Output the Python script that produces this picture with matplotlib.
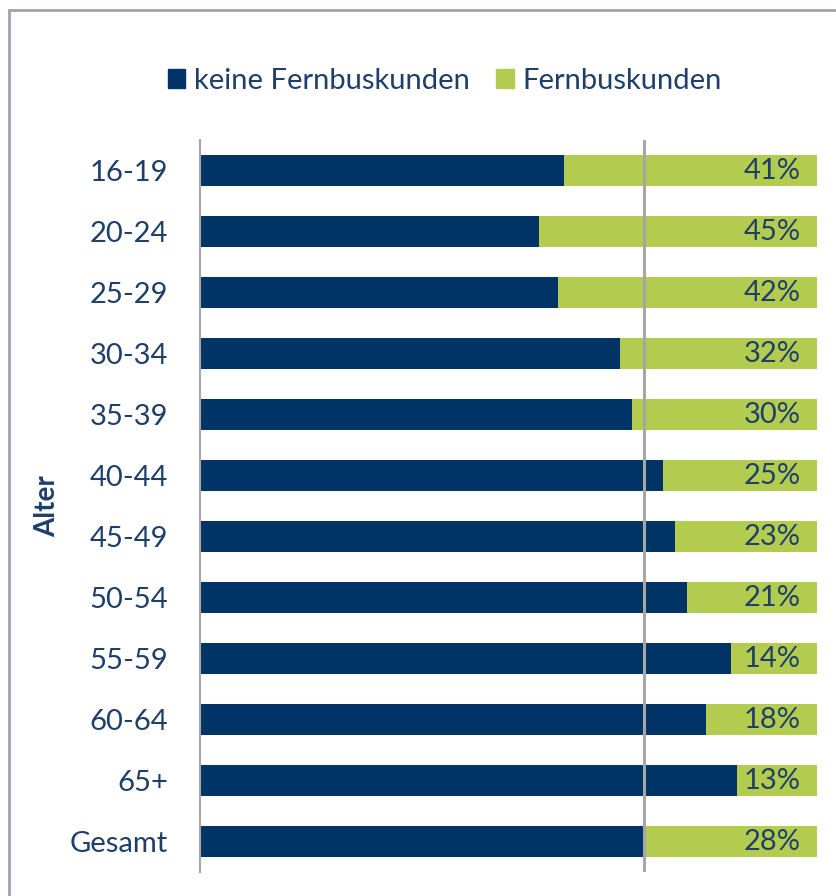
import numpy as np
import matplotlib
matplotlib.use("Agg")
from matplotlib import pyplot as plt
from matplotlib.patches import Rectangle, Patch

# data (share in %)
groups = ["16-19", "20-24", "25-29", "30-34", "35-39", "40-44", "45-49",
          "50-54", "55-59", "60-64", "65+", "Gesamt"]
fernbus = [41, 45, 42, 32, 30, 25, 23, 21, 14, 18, 13, 28]
keine = [100 - v for v in fernbus]
gesamt_line = 72

navy = "#003366"
green = "#B3CC4F"
textc = "#1F3F6B"
grey = "#A6A6A6"

plt.rcParams['font.family'] = ['Lato', 'DejaVu Sans']

fig = plt.figure(figsize=(8.37, 8.96), dpi=100)
W, H = 837, 896
ax = fig.add_axes([200 / W, 1 - 872 / H, 617 / W, 732 / H])

y = np.arange(len(groups))
ax.barh(y, keine, height=0.5, color=navy, label="keine Fernbuskunden")
ax.barh(y, fernbus, left=keine, height=0.5, color=green, label="Fernbuskunden")

for yi, v in zip(y, fernbus):
    ax.text(97.4, yi, f"{v}%", ha="right", va="center", fontsize=21, color=textc)

ax.axvline(gesamt_line, color=grey, lw=2.2, zorder=3)

ax.set_xlim(0, 100)
ax.set_ylim(len(groups) - 0.5, -0.5)
ax.set_yticks(y)
ax.set_yticklabels(groups, fontsize=21, color=textc)
ax.tick_params(axis="y", length=0, pad=23)
ax.set_xticks([])
for s in ["top", "right", "bottom"]:
    ax.spines[s].set_visible(False)
ax.spines["left"].set_color(grey)
ax.spines["left"].set_linewidth(1.5)
ax.set_ylabel("Alter", fontsize=20, fontweight="bold", color=textc, labelpad=7)

# legend
handles = [Patch(color=navy), Patch(color=green)]
fig.legend(handles, ["keine Fernbuskunden", "Fernbuskunden"], loc="center",
           bbox_to_anchor=(445 / W, 1 - 81 / H), ncol=2, frameon=False,
           fontsize=21, handlelength=0.6, handleheight=0.6, handletextpad=0.3,
           columnspacing=0.9, labelcolor=textc)

# outer frame
fig.patches.append(Rectangle((9 / W, -0.1), 1.2, 1 - 10 / H + 0.1,
                             transform=fig.transFigure, fill=False,
                             edgecolor="#9DA2B0", lw=2))

fig.savefig("out.png", dpi=100)
